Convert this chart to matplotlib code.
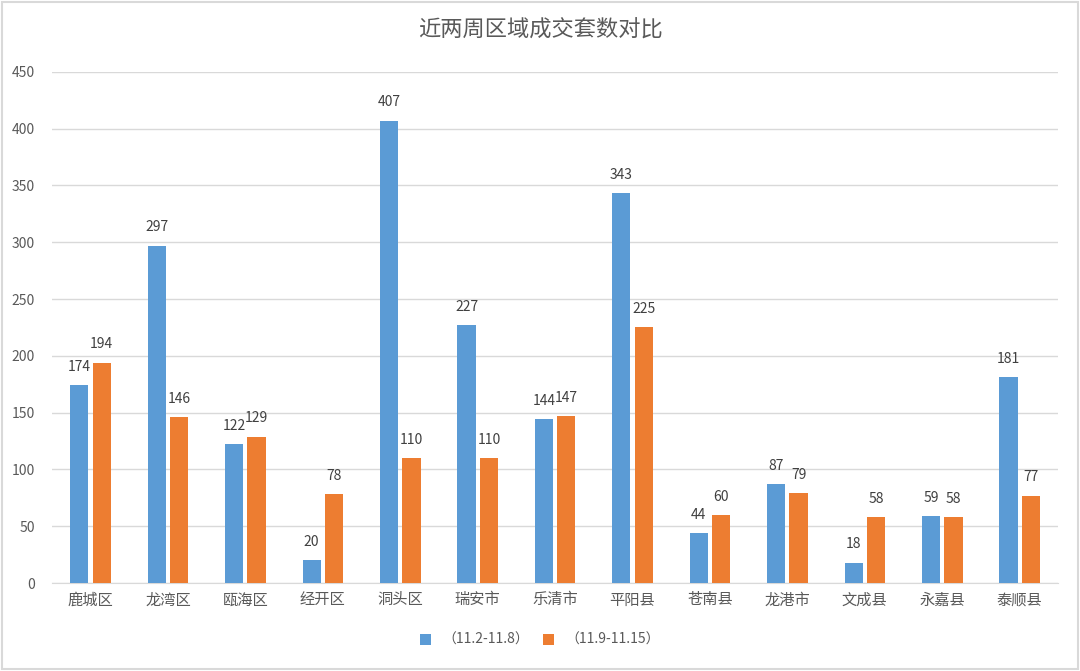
import matplotlib.pyplot as plt
import numpy as np

plt.rcParams['font.family'] = ['Noto Sans CJK SC', 'DejaVu Sans']

districts = ['鹿城区', '龙湾区', '瓯海区', '经开区', '洞头区', '瑞安市', '乐清市',
             '平阳县', '苍南县', '龙港市', '文成县', '永嘉县', '泰顺县']
week1 = [174, 297, 122, 20, 407, 227, 144, 343, 44, 87, 18, 59, 181]
week2 = [194, 146, 129, 78, 110, 110, 147, 225, 60, 79, 58, 58, 77]
labels = ['（11.2-11.8）', '（11.9-11.15）']

blue = '#5B9BD5'
orange = '#ED7D31'
txt = '#595959'

fig = plt.figure(figsize=(10.8, 6.71), dpi=100)
ax = fig.add_axes([0.048, 0.131, 0.932, 0.762])

x = np.arange(len(districts))
w = 0.235
off = w / 2 + 0.027
b1 = ax.bar(x - off, week1, w, color=blue, label=labels[0], zorder=3)
b2 = ax.bar(x + off, week2, w, color=orange, label=labels[1], zorder=3)

for bars in (b1, b2):
    for r in bars:
        ax.text(r.get_x() + r.get_width() / 2, r.get_height() + 10,
                str(int(r.get_height())), ha='center', va='bottom',
                fontsize=10, color='#404040')

ax.set_xlim(-0.5, len(districts) - 0.5)
ax.set_ylim(0, 450)
ax.set_yticks(range(0, 451, 50))
ax.yaxis.grid(True, color='#D9D9D9', linewidth=1, zorder=0)
ax.set_xticks(x)
ax.set_xticklabels(districts, fontsize=11, color=txt)
ax.tick_params(axis='y', labelsize=10, colors=txt, length=0, pad=12)
ax.tick_params(axis='x', length=0, pad=6)
for s in ['top', 'right', 'left']:
    ax.spines[s].set_visible(False)
ax.spines['bottom'].set_color('#D9D9D9')

fig.text(0.5, 0.955, '近两周区域成交套数对比', ha='center', va='center',
         fontsize=16, color=txt)

fig.legend(loc='center', bbox_to_anchor=(0.5, 0.046), ncol=2, frameon=False,
           fontsize=10, handlelength=0.8, handleheight=0.8, columnspacing=1.0,
           labelcolor=txt)

fig.patches.append(plt.Rectangle((0.002, 0.003), 0.996, 0.994,
                                 transform=fig.transFigure, fill=False,
                                 edgecolor='#D9D9D9', linewidth=1.5))

fig.savefig('out.png', dpi=100)
